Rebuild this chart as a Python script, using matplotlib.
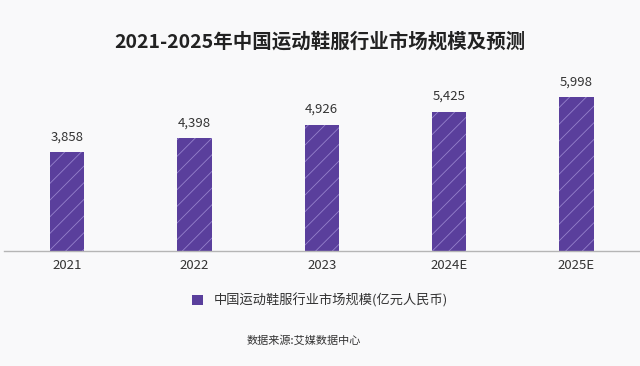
import matplotlib
matplotlib.use("Agg")
from matplotlib import pyplot as plt
from matplotlib.patches import Patch
import numpy as np

plt.rcParams['font.family'] = ['Noto Sans CJK SC', 'DejaVu Sans']
plt.rcParams['hatch.linewidth'] = 0.6

years = ['2021', '2022', '2023', '2024E', '2025E']
market_size = [3858, 4398, 4926, 5425, 5998]  # 亿元人民币

bg = '#f9f9fa'
bar_color = '#5a3f9c'
text_color = '#333333'

fig = plt.figure(figsize=(6.4, 3.66), dpi=100, facecolor=bg)
ax = fig.add_axes([0.0055, 0.314, 0.9945, 0.56], facecolor=bg)

xpos = np.arange(len(years))
ax.bar(xpos, market_size, width=0.27, color=bar_color,
       edgecolor='#9582cc', linewidth=0, hatch='//')

for x, v in zip(xpos, market_size):
    ax.text(x, v + 350, f'{v:,}', ha='center', va='bottom',
            fontsize=9.5, color=text_color)

ax.set_xlim(-0.5, 4.5)
ax.set_ylim(0, 8000)
ax.set_xticks(xpos, years)
ax.tick_params(axis='x', length=0, labelsize=9.5, labelcolor=text_color, pad=6)
ax.set_yticks([])
for side in ['top', 'right', 'left']:
    ax.spines[side].set_visible(False)
ax.spines['bottom'].set_color('#b5b5b5')
ax.spines['bottom'].set_linewidth(1)

fig.text(0.5, 0.885, '2021-2025年中国运动鞋服行业市场规模及预测', ha='center',
         va='center', fontsize=14, fontweight='bold', color='#222222')

handle = Patch(facecolor=bar_color, edgecolor='none',
               label='中国运动鞋服行业市场规模(亿元人民币)')
fig.legend(handles=[handle], loc='center', bbox_to_anchor=(0.5, 0.178),
           frameon=False, fontsize=9.5, handlelength=0.8, handleheight=0.8,
           handletextpad=0.8, labelcolor=text_color)

fig.text(0.475, 0.07, '数据来源:艾媒数据中心', ha='center', va='center',
         fontsize=8, color=text_color)

plt.savefig('out.png', dpi=100, facecolor=bg)
